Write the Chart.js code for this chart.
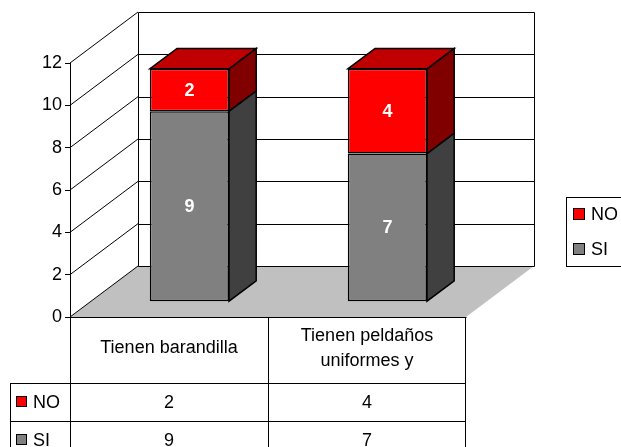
<!DOCTYPE html>
<html><head><meta charset="utf-8">
<script src="https://cdn.jsdelivr.net/npm/chart.js@4/dist/chart.umd.min.js"></script>
<style>html,body{margin:0;padding:0;background:#fff;overflow:hidden}canvas{display:block}</style>
</head><body>
<canvas id="c" width="621" height="447"></canvas>
<script>
// ---- data ----
const categories = ["Tienen barandilla", ["Tienen peldaños", "uniformes y"]];
const seriesNames = ["SI", "NO"];
const siValues = [9, 7];
const noValues = [2, 4];
const yMin = 0, yMax = 12, yStep = 2;

// ---- style ----
const FONT = "'Liberation Sans', Arial, Helvetica, sans-serif";
const DX = 68, DY = -51;          // full depth of the 3D box
const FRONT = 0.3, BAR_D = 0.4;   // bar front position / bar depth (fractions)
const palette = {
  SI: {front: '#808080', side: '#404040', top: '#a0a0a0'},
  NO: {front: '#ff0000', side: '#800000', top: '#c00000'}
};
const px = v => Math.round(v) + 0.5;

function line(ctx, x1, y1, x2, y2) {
  ctx.beginPath(); ctx.moveTo(x1, y1); ctx.lineTo(x2, y2); ctx.stroke();
}

const box3d = {
  id: 'box3d',
  beforeDraw(chart) {
    const {ctx, chartArea: a} = chart;
    const y = chart.scales.y;
    ctx.save();
    ctx.fillStyle = '#fff';
    ctx.fillRect(0, 0, chart.width, chart.height);
    const y0 = y.getPixelForValue(yMin), yT = y.getPixelForValue(yMax);
    // floor
    ctx.fillStyle = '#c0c0c0';
    ctx.beginPath();
    ctx.moveTo(a.left, y0); ctx.lineTo(a.right, y0);
    ctx.lineTo(a.right + DX, y0 + DY); ctx.lineTo(a.left + DX, y0 + DY);
    ctx.closePath(); ctx.fill();
    // grid on side wall and back wall
    ctx.strokeStyle = '#000'; ctx.lineWidth = 1;
    for (let v = yMin; v <= yMax; v += yStep) {
      const p = y.getPixelForValue(v);
      line(ctx, a.left, p, a.left + DX, p + DY);
      line(ctx, px(a.left + DX), px(p + DY), px(a.right + DX), px(p + DY));
    }
    line(ctx, px(a.left + DX), px(yT + DY), px(a.left + DX), px(y0 + DY));
    line(ctx, px(a.right + DX), px(yT + DY), px(a.right + DX), px(y0 + DY));
    ctx.restore();
  },
  beforeDatasetsDraw(chart) {
    chart.ctx.save();
    chart.ctx.translate(DX * FRONT, DY * FRONT);
  },
  afterDatasetsDraw(chart) {
    const ctx = chart.ctx;
    ctx.restore();
    const ox = DX * FRONT, oy = DY * FRONT, bx = DX * BAR_D, by = DY * BAR_D;
    const nSets = chart.data.datasets.length;
    ctx.save();
    ctx.strokeStyle = '#000'; ctx.lineWidth = 1.5; ctx.lineJoin = 'miter';
    for (let i = 0; i < categories.length; i++) {
      let topIdx = -1;
      for (let d = 0; d < nSets; d++) {
        const el = chart.getDatasetMeta(d).data[i];
        const ds = chart.data.datasets[d];
        if (!ds.data[i]) continue;
        topIdx = d;
        const {x, y, base, width} = el.getProps(['x', 'y', 'base', 'width'], true);
        const xr = x + width / 2 + ox, yt = y + oy, yb = base + oy;
        ctx.fillStyle = palette[ds.label].side;
        ctx.beginPath();
        ctx.moveTo(xr, yt); ctx.lineTo(xr + bx, yt + by);
        ctx.lineTo(xr + bx, yb + by); ctx.lineTo(xr, yb);
        ctx.closePath(); ctx.fill(); ctx.stroke();
      }
      if (topIdx >= 0) {
        const ds = chart.data.datasets[topIdx];
        const el = chart.getDatasetMeta(topIdx).data[i];
        const {x, y, width} = el.getProps(['x', 'y', 'width'], true);
        const xl = x - width / 2 + ox, xr = x + width / 2 + ox, yt = y + oy;
        ctx.fillStyle = palette[ds.label].top;
        ctx.beginPath();
        ctx.moveTo(xl, yt); ctx.lineTo(xl + bx, yt + by);
        ctx.lineTo(xr + bx, yt + by); ctx.lineTo(xr, yt);
        ctx.closePath(); ctx.fill(); ctx.stroke();
      }
    }
    // value labels
    ctx.fillStyle = '#fff';
    ctx.font = 'bold 18px ' + FONT;
    ctx.textAlign = 'center'; ctx.textBaseline = 'middle';
    for (let d = 0; d < nSets; d++) {
      const ds = chart.data.datasets[d];
      chart.getDatasetMeta(d).data.forEach((el, i) => {
        if (!ds.data[i]) return;
        const {x, y, base} = el.getProps(['x', 'y', 'base'], true);
        ctx.fillText(String(ds.data[i]), x + ox, (y + base) / 2 + oy + 1);
      });
    }
    ctx.restore();
  },
  afterDraw(chart) {
    const {ctx, chartArea: a} = chart;
    const xs = chart.scales.x;
    const n = categories.length;
    const cw = (a.right - a.left) / n;
    const top = a.bottom, hdrB = top + 66, rowH = 38, leftX = 10, H = chart.height + 20;
    ctx.save();
    ctx.strokeStyle = '#000'; ctx.lineWidth = 1;
    // table lines
    line(ctx, a.left, px(top), a.right + 0.5, px(top));
    for (let i = 0; i <= n; i++) {
      const xx = px(a.left + i * cw - (i === n ? 1 : 0));
      line(ctx, xx, top, xx, H);
    }
    const sets = chart.data.datasets.slice().reverse();
    sets.forEach((ds, r) => {
      const yy = px(hdrB + r * rowH);
      line(ctx, leftX, yy, a.right, yy);
    });
    line(ctx, px(leftX), hdrB, px(leftX), H);
    ctx.fillStyle = '#000';
    ctx.font = '18px ' + FONT;
    ctx.textAlign = 'center'; ctx.textBaseline = 'alphabetic';
    // header labels
    const hc = (top + hdrB) / 2;
    categories.forEach((c, i) => {
      const lines = Array.isArray(c) ? c : [c];
      const cx = xs.getPixelForValue(i);
      lines.forEach((t, k) => {
        ctx.fillText(t, cx, hc + 3 + (k - (lines.length - 1) / 2) * 25);
      });
    });
    // rows
    sets.forEach((ds, r) => {
      const rc = hdrB + r * rowH + rowH / 2;
      ctx.fillStyle = palette[ds.label].front;
      ctx.fillRect(16.5, rc - 5.5, 10, 10);
      ctx.strokeRect(16.5, rc - 5.5, 10, 10);
      ctx.fillStyle = '#000';
      ctx.textAlign = 'left';
      ctx.fillText(ds.label, 33, rc + 6);
      ctx.textAlign = 'center';
      ds.data.forEach((v, i) => ctx.fillText(String(v), xs.getPixelForValue(i), rc + 6));
    });
    // legend
    const lx = 566, ly = 197, lh = 69;
    ctx.fillStyle = '#fff';
    ctx.fillRect(lx, ly, 80, lh);
    ctx.strokeRect(px(lx), px(ly), 80, lh);
    ctx.textAlign = 'left';
    sets.forEach((ds, r) => {
      const cy = ly + 17 + r * 35;
      ctx.fillStyle = palette[ds.label].front;
      ctx.fillRect(573.5, cy - 5.5, 11, 11);
      ctx.strokeRect(573.5, cy - 5.5, 11, 11);
      ctx.fillStyle = '#000';
      ctx.fillText(ds.label, 591, cy + 6);
    });
    ctx.restore();
  }
};

Chart.defaults.font.family = FONT;
new Chart(document.getElementById('c'), {
  type: 'bar',
  data: {
    labels: categories,
    datasets: [
      {label: seriesNames[0], data: siValues, backgroundColor: palette.SI.front},
      {label: seriesNames[1], data: noValues, backgroundColor: palette.NO.front}
    ].map(d => Object.assign(d, {borderColor: '#000', borderWidth: 1.5, borderSkipped: false, clip: false}))
  },
  options: {
    responsive: false, animation: false, devicePixelRatio: 1,
    layout: {padding: {top: 63, bottom: 130, left: 0, right: 155}},
    categoryPercentage: 1.0, barPercentage: 0.4,
    plugins: {legend: {display: false}, tooltip: {enabled: false}},
    scales: {
      x: {stacked: true, display: false},
      y: {
        stacked: true, min: yMin, max: yMax,
        ticks: {stepSize: yStep, color: '#000', font: {size: 18, family: FONT}, padding: 3},
        grid: {drawOnChartArea: false, drawTicks: true, tickLength: 5, color: '#000'},
        border: {display: true, color: '#000', width: 1},
        afterFit(s) { s.width = 70; }
      }
    }
  },
  plugins: [box3d]
});
</script>
</body></html>
